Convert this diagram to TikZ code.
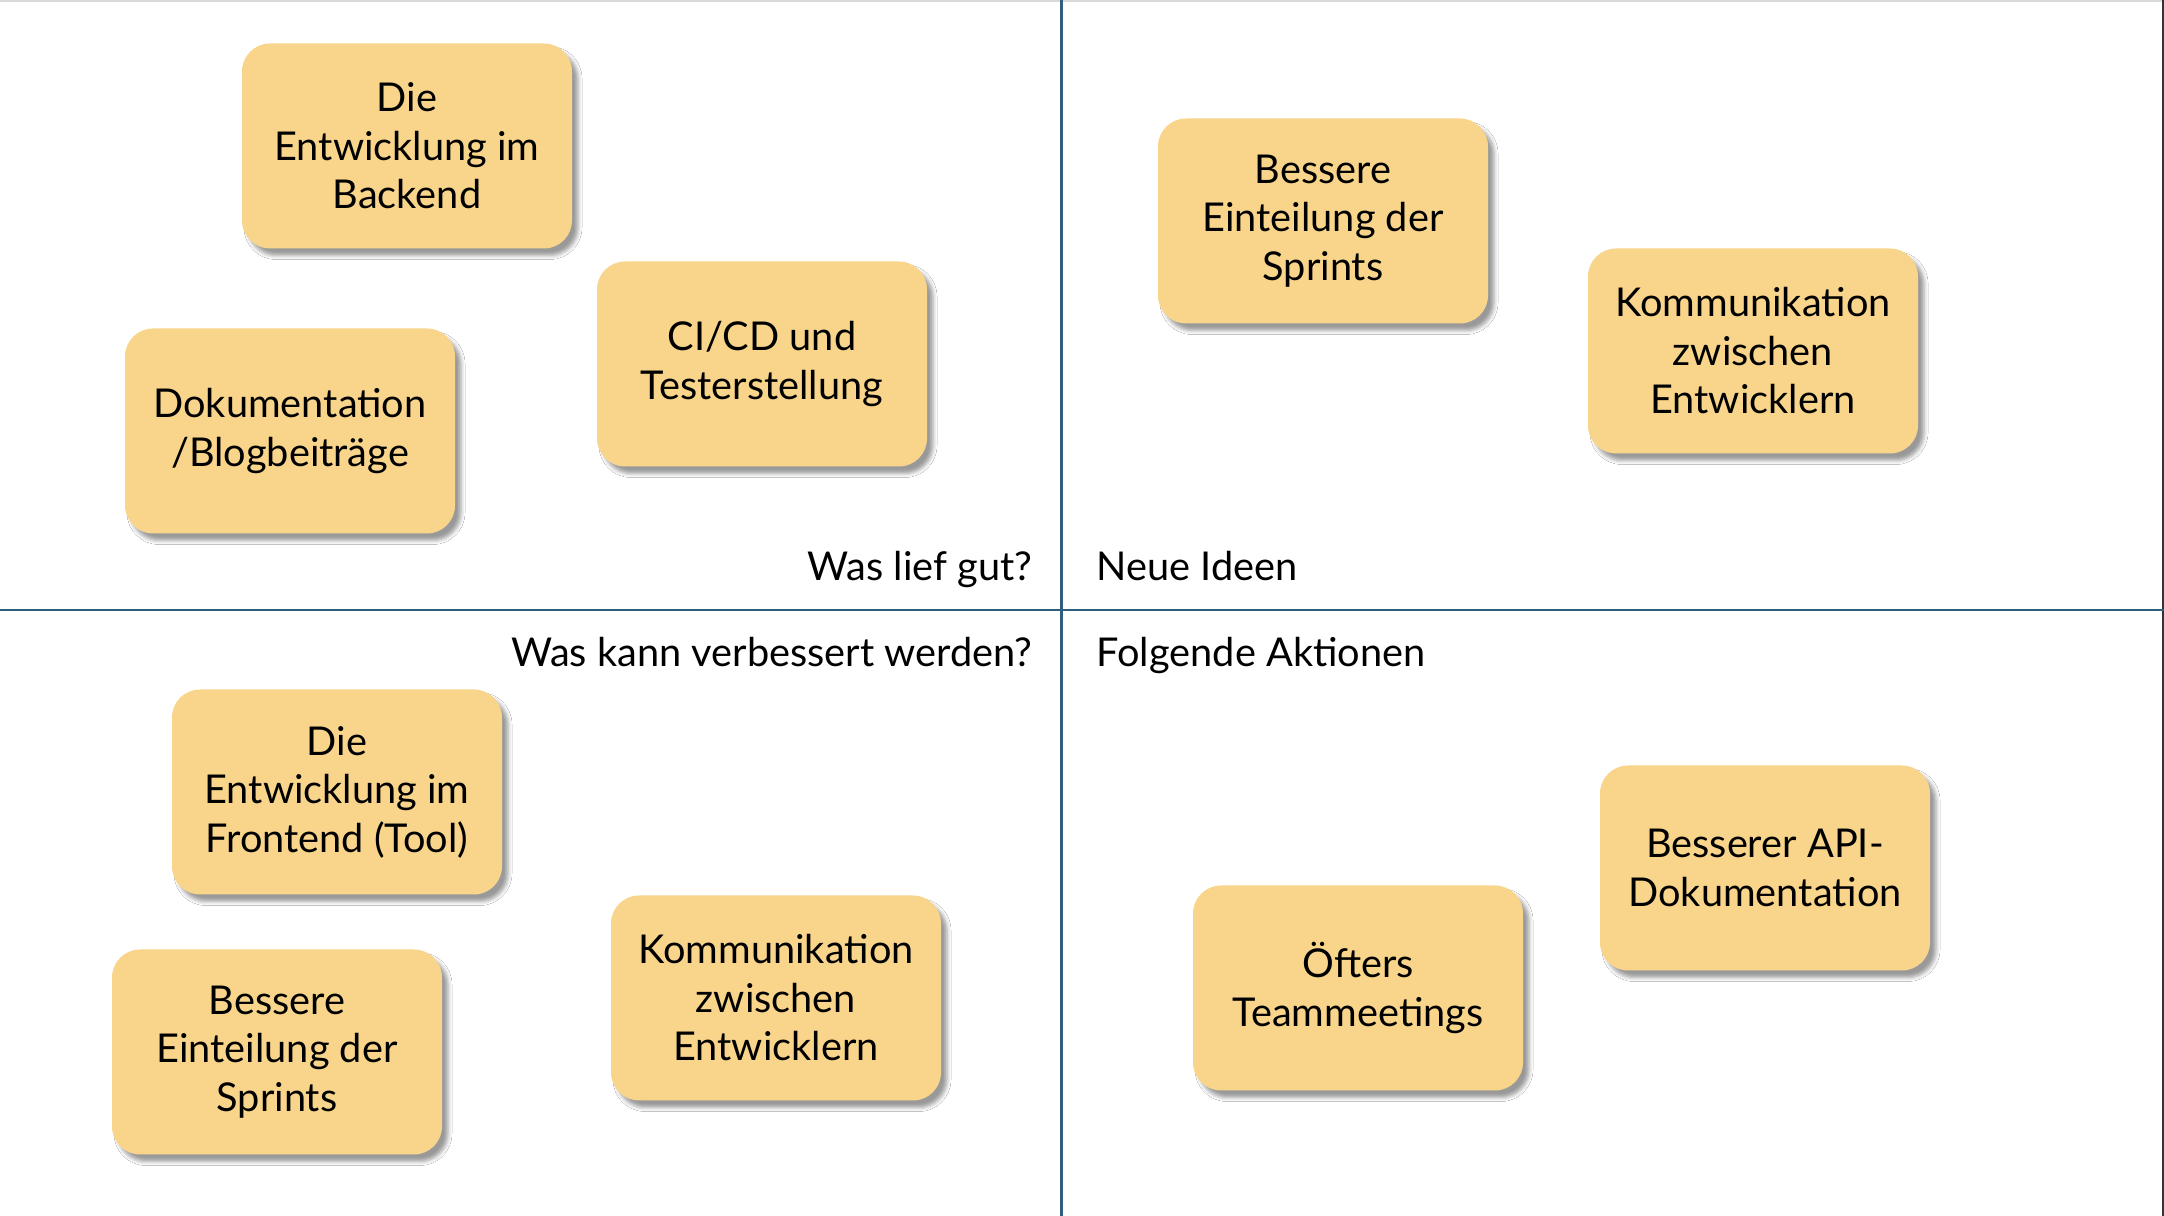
\documentclass[tikz,border=0pt]{standalone}
\usepackage{fontspec}
\setmainfont{Lato}
\usetikzlibrary{shadows.blur}
\definecolor{notefill}{HTML}{F8D58A}
\definecolor{divline}{HTML}{2E5F7E}
\begin{document}
\begin{tikzpicture}[
        note/.style={fill=notefill, rounded corners=0.28cm, minimum width=3.3cm,
            minimum height=2.05cm, inner sep=0pt, align=center,
            font=\fontsize{11.3}{13.8}\selectfont,
            blur shadow={shadow xshift=0.6mm, shadow yshift=-0.7mm,
                shadow blur radius=0.4mm, shadow opacity=40}},
        heading/.style={font=\fontsize{11.3}{13.8}\selectfont, inner sep=0pt},
        divider/.style={divline, line width=0.85pt}
    ]
                \useasboundingbox (0,0) rectangle (21.64,-12.16);
                \fill[white] (0,0) rectangle (21.64,-12.16);
                \draw[black!15, line width=0.8pt]
                    (0,-0.01) -- (21.64,-0.01);
                \draw[black!80, line width=0.8pt]
                    (21.63,0) -- (21.63,-12.16);
                \draw[divider]
                    (10.61,0) -- (10.61,-12.16);
                \draw[divider]
                    (0,-6.10) -- (21.64,-6.10);
                \node[heading, anchor=base east] (gut) at (10.33,-5.81) {Was lief gut?};
                \node[heading, anchor=base west] (ideen) at (10.96,-5.81) {Neue Ideen};
                \node[heading, anchor=base east] (besser) at (10.33,-6.67) {Was kann verbessert werden?};
                \node[heading, anchor=base west] (aktionen) at (10.96,-6.67) {Folgende Aktionen};
                \node[note] (backend) at (4.07,-1.46) {Die\\Entwicklung im\\Backend};
                \node[note] (cicd) at (7.62,-3.64) {CI/CD und\\Testerstellung};
                \node[note] (doku) at (2.90,-4.31) {Dokumentation\\/Blogbeiträge};
                \node[note] (sprintsA) at (13.23,-2.21) {Bessere\\Einteilung der\\Sprints};
                \node[note] (kommA) at (17.53,-3.51) {Kommunikation\\zwischen\\Entwicklern};
                \node[note] (frontend) at (3.37,-7.92) {Die\\Entwicklung im\\Frontend (Tool)};
                \node[note] (sprintsB) at (2.77,-10.52) {Bessere\\Einteilung der\\Sprints};
                \node[note] (kommB) at (7.76,-9.98) {Kommunikation\\zwischen\\Entwicklern};
                \node[note] (meetings) at (13.58,-9.88) {Öfters\\Teammeetings};
                \node[note] (api) at (17.65,-8.68) {Besserer API-\\Dokumentation};
            \end{tikzpicture}
\end{document}
